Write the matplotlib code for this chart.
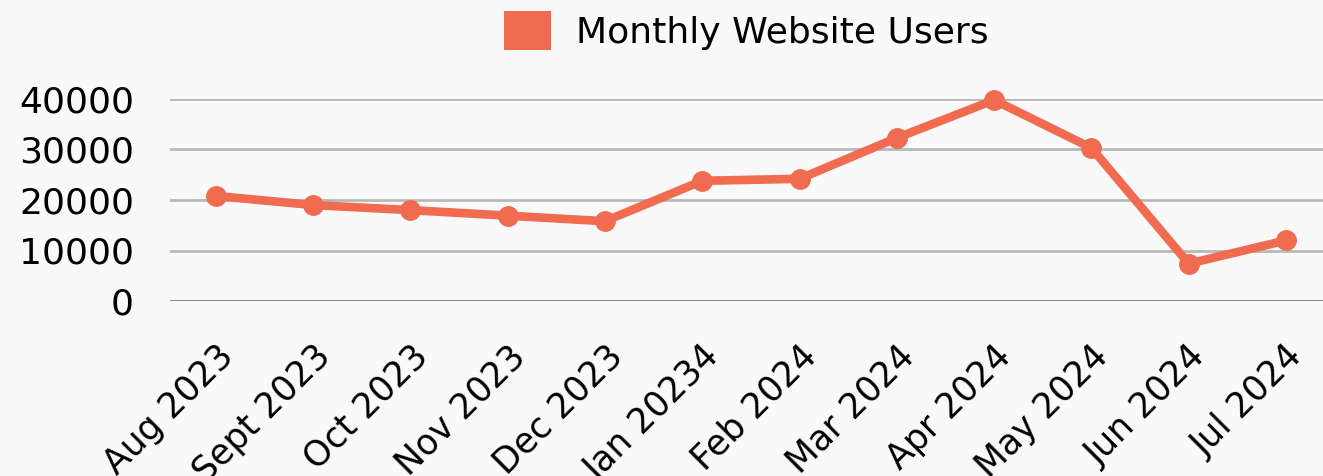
import matplotlib
matplotlib.use('Agg')
import matplotlib.pyplot as plt
import matplotlib.transforms as mtransforms
from matplotlib.patches import Patch

months = ['Aug 2023', 'Sept 2023', 'Oct 2023', 'Nov 2023', 'Dec 2023', 'Jan 20234',
          'Feb 2024', 'Mar 2024', 'Apr 2024', 'May 2024', 'Jun 2024', 'Jul 2024']
users = [20800, 19000, 18000, 16900, 15800, 23800, 24200, 32300, 39800, 30300, 7400, 12000]
y_ticks = [0, 10000, 20000, 30000, 40000]

line_color = '#f06b4f'
bg = '#f9f9f9'

plt.rcParams['font.family'] = ['DejaVu Sans']

fig = plt.figure(figsize=(13.23, 4.76), dpi=100, facecolor=bg)
ax = fig.add_axes([170 / 1323, (476 - 301) / 476, 1 - 170 / 1323, 202 / 476])
ax.set_facecolor(bg)

x = list(range(len(months)))
ax.plot(x, users, color=line_color, lw=6.2, marker='o', ms=14, clip_on=False, zorder=3)

ax.set_xlim(-0.47, 11.38)
ax.set_ylim(0, 40000)
ax.set_yticks(y_ticks)
ax.set_yticklabels([str(v) for v in y_ticks], fontsize=26)
for v in y_ticks:
    ax.axhline(v, color='#7a7a7a' if v == 0 else '#b8b8b8', lw=2, zorder=1)

ax.set_xticks(x)
ax.set_xticklabels(months, fontsize=25, rotation=45, ha='right', va='center',
                   rotation_mode='anchor')
ax.tick_params(axis='x', length=0, pad=36)
ax.tick_params(axis='y', length=0, pad=26)
shift = mtransforms.ScaledTranslation(12 / 100, 0, fig.dpi_scale_trans)
for lbl in ax.get_xticklabels():
    lbl.set_transform(lbl.get_transform() + shift)
for s in ax.spines.values():
    s.set_visible(False)

handle = Patch(facecolor=line_color, edgecolor='none')
ax.legend([handle], ['Monthly Website Users'], loc='lower center',
          bbox_to_anchor=(0.5, 1.08), frameon=False, fontsize=26,
          handlelength=1.3, handleheight=1.3, handletextpad=0.7)

fig.savefig('out.png', dpi=100, facecolor=bg)
